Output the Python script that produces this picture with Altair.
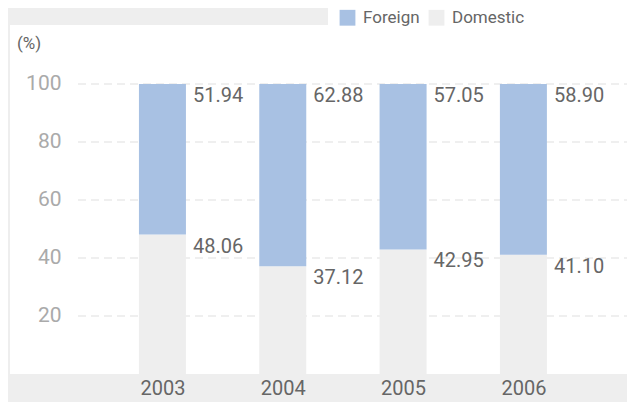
import altair as alt
import pandas as pd

years = [2003, 2004, 2005, 2006]
foreign = [51.94, 62.88, 57.05, 58.90]
domestic = [48.06, 37.12, 42.95, 41.10]
grid_values = [20, 40, 60, 80, 100]
series = ["Foreign", "Domestic"]
colors = ["#a8c1e3", "#eeeeee"]

FONT = "Roboto"
W, H = 617, 349
X_DOMAIN = [2001.733, 2006.861]
Y_DOMAIN = [0, 120.3]

rows = []
for yr, f, d in zip(years, foreign, domestic):
    rows.append({"year": yr, "series": "Domestic", "y0": 0, "y1": d, "label": f"{d:.2f}"})
    rows.append({"year": yr, "series": "Foreign", "y0": d, "y1": d + f, "label": f"{f:.2f}"})
df = pd.DataFrame(rows)
grid_df = pd.DataFrame({"g": grid_values})

xs = alt.Scale(domain=X_DOMAIN, nice=False, zero=False, padding=0)
ys = alt.Scale(domain=Y_DOMAIN, nice=False, zero=True, padding=0)

y_axis = alt.Axis(
    values=grid_values, domain=False, ticks=False, grid=False,
    labelPadding=0, offset=-51, labelFontSize=21, labelColor="#aaaaaa",
    labelFont=FONT, labelAlign="right", title=None)
x_axis = alt.Axis(
    values=years, format="d", domain=False, ticks=False, grid=False,
    labelPadding=4, labelFontSize=20, labelColor="#666666",
    labelFont=FONT, title=None)

legend_box = alt.Chart(grid_df.head(1)).mark_rect(color="white").encode(
    x=alt.value(318), x2=alt.value(W), y=alt.value(-17), y2=alt.value(0)
)

grid = alt.Chart(grid_df).mark_rule(
    color="#efefef", strokeWidth=2, strokeDash=[8, 5]
).encode(
    y=alt.Y("g:Q", scale=ys, axis=y_axis),
    x=alt.value(68),
    x2=alt.value(W),
)

bars = alt.Chart(df).mark_bar(size=47).encode(
    x=alt.X("year:Q", scale=xs, axis=x_axis),
    y=alt.Y("y0:Q", scale=ys, axis=y_axis),
    y2="y1:Q",
    color=alt.Color("series:N", scale=alt.Scale(domain=series, range=colors),
                    legend=alt.Legend(
                        orient="none", legendX=327, legendY=-18,
                        direction="horizontal", title=None,
                        symbolType="square", symbolSize=250,
                        symbolStrokeWidth=0, labelFontSize=17,
                        labelColor="#666666", labelFont=FONT,
                        columnPadding=8, labelOffset=7, padding=2)),
)

labels = alt.Chart(df).mark_text(
    align="left", baseline="top", dx=30.5, dy=2, fontSize=20,
    color="#666666", font=FONT
).encode(
    x=alt.X("year:Q", scale=xs, axis=x_axis),
    y=alt.Y("y1:Q", scale=ys, axis=y_axis),
    text="label:N",
)

pct = alt.Chart(grid_df.head(1)).mark_text(
    align="left", baseline="middle", fontSize=17, color="#666666", font=FONT
).encode(
    x=alt.value(7), y=alt.value(19), text=alt.value("(%)")
)

chart = alt.layer(legend_box, grid, bars, labels, pct).properties(
    width=W, height=H,
    background="#eeeeee",
    autosize=alt.AutoSizeParams(type="none"),
    padding={"left": 2, "top": 17, "right": 0, "bottom": 28},
).configure_view(fill="white", stroke=None)

chart.save("out.html", embed_options={"renderer": "svg", "actions": False})
